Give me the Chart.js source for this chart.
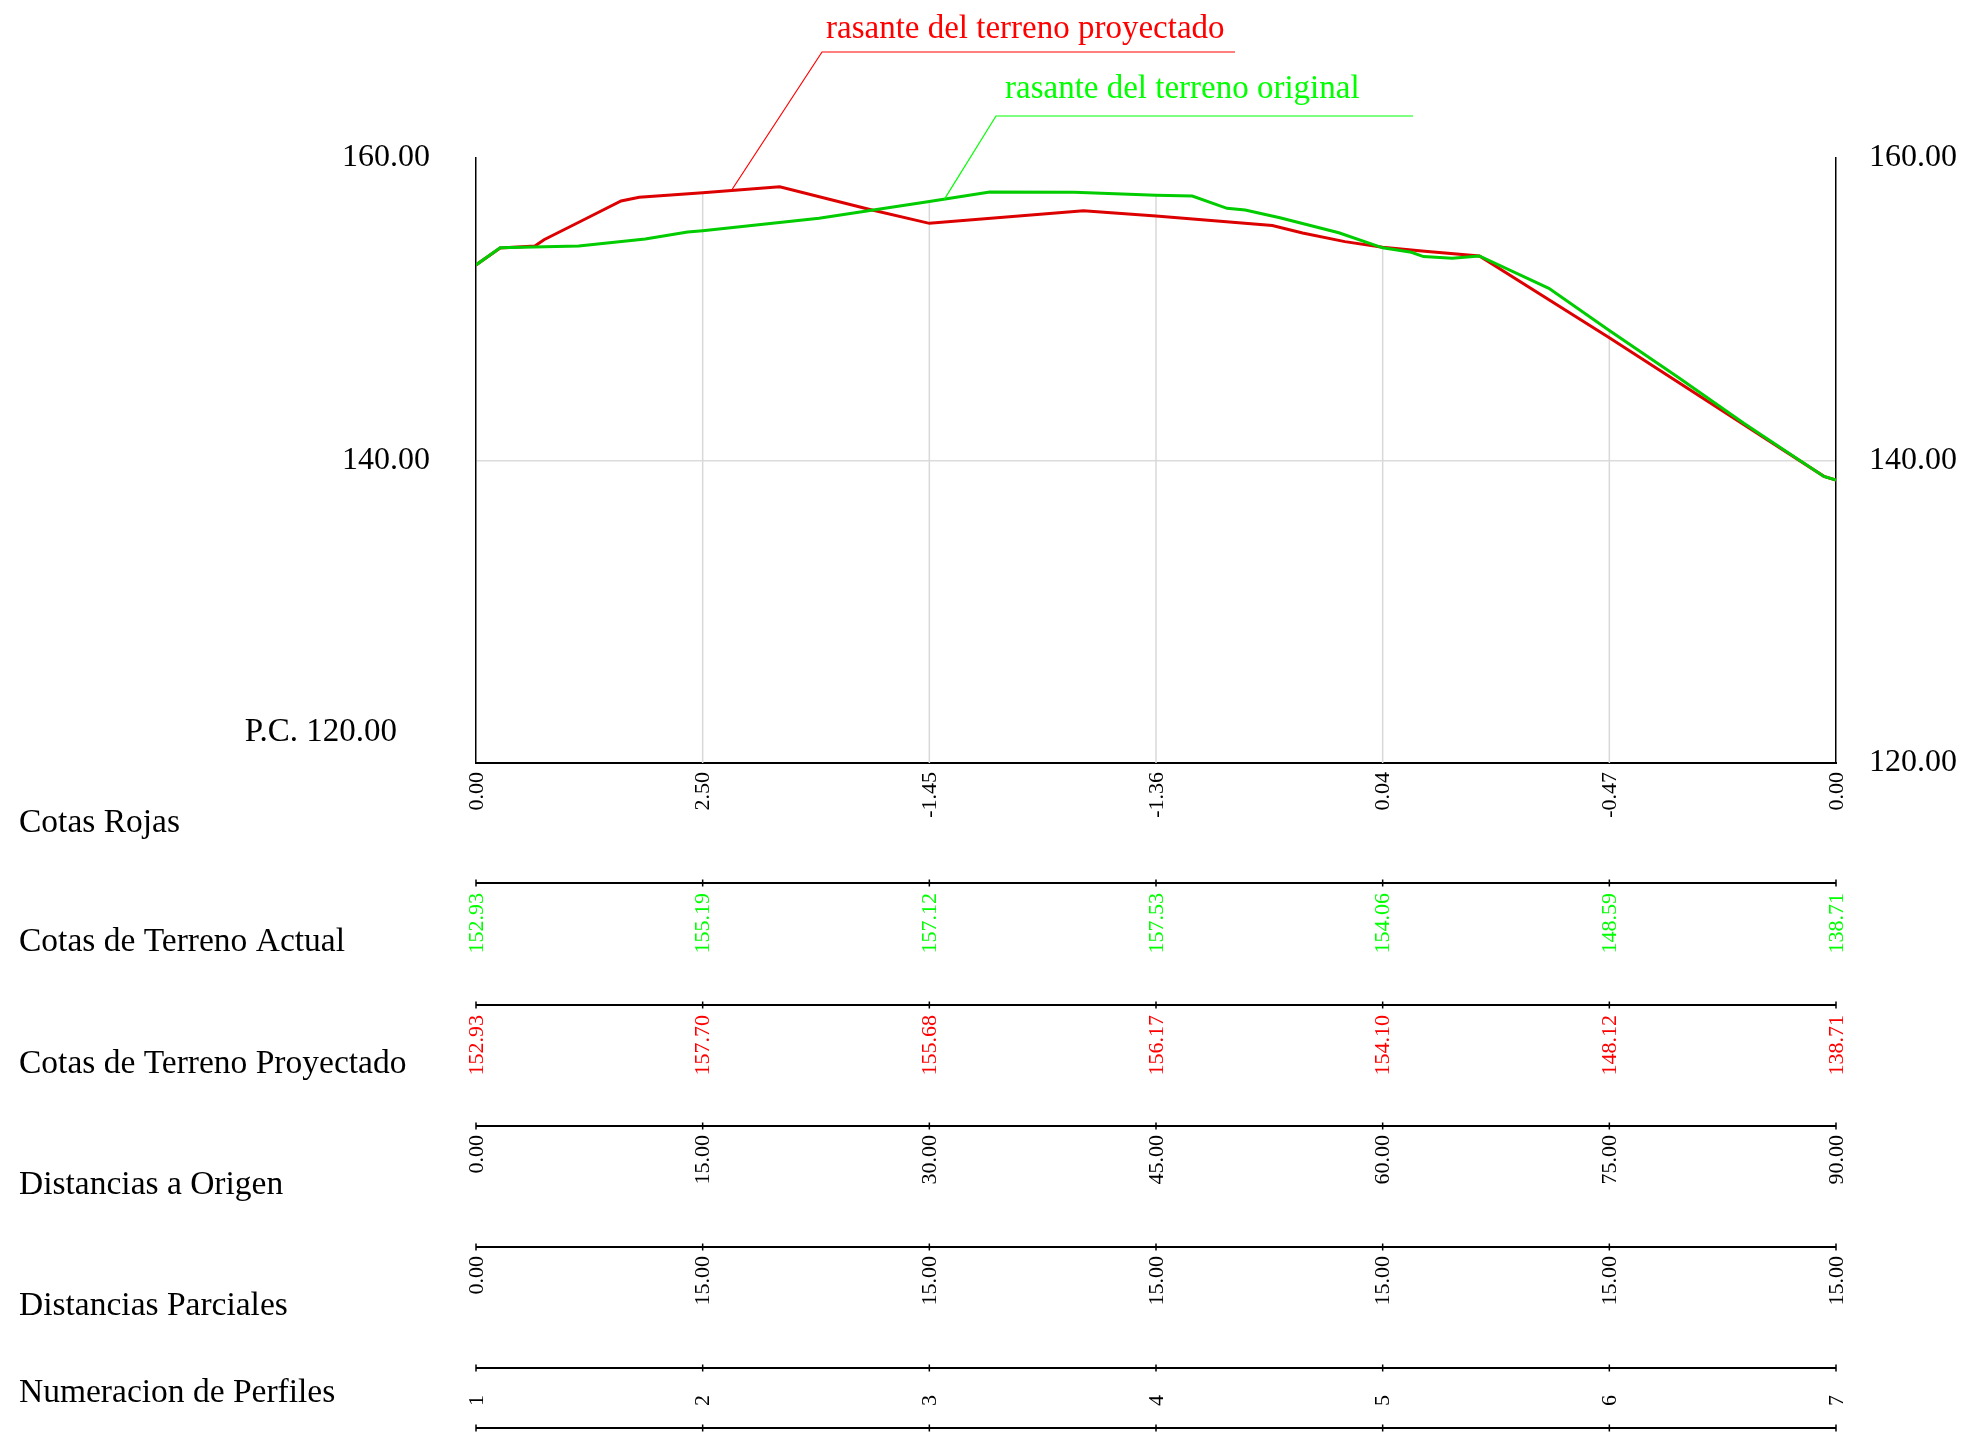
<!DOCTYPE html>
<html><head><meta charset="utf-8">
<script src="https://cdn.jsdelivr.net/npm/chart.js@4/dist/chart.umd.min.js"></script>
<style>html,body{margin:0;padding:0;background:#fff;}canvas{display:block;}</style>
</head><body>
<canvas id="c" width="1970" height="1432"></canvas>
<script>
// ---- data ----
const stations = [0, 15, 30, 45, 60, 75, 90];
const perfiles = ['1', '2', '3', '4', '5', '6', '7'];
const cotasRojas = ['0.00', '2.50', '-1.45', '-1.36', '0.04', '-0.47', '0.00'];
const cotasActual = ['152.93', '155.19', '157.12', '157.53', '154.06', '148.59', '138.71'];
const cotasProyectado = ['152.93', '157.70', '155.68', '156.17', '154.10', '148.12', '138.71'];
const distOrigen = ['0.00', '15.00', '30.00', '45.00', '60.00', '75.00', '90.00'];
const distParciales = ['0.00', '15.00', '15.00', '15.00', '15.00', '15.00', '15.00'];
const rowTitles = ['Cotas Rojas', 'Cotas de Terreno Actual', 'Cotas de Terreno Proyectado',
  'Distancias a Origen', 'Distancias Parciales', 'Numeracion de Perfiles'];
const yTicks = [120, 140, 160];
const planoComparacion = 'P.C. 120.00';
const labelProyectado = 'rasante del terreno proyectado';
const labelOriginal = 'rasante del terreno original';

const distRed = [0, 1.6, 3.9, 4.5, 7.1, 9.6, 10.8, 15, 20.1, 26, 30, 40.2, 45, 52.7, 54.7, 57.5, 60, 62.6, 66.4, 75, 89.2, 90];
const elevRed = [152.93, 154.05, 154.18, 154.6, 155.9, 157.16, 157.40, 157.70, 158.10, 156.61, 155.68, 156.52, 156.17, 155.53, 155.04, 154.47, 154.10, 153.85, 153.52, 148.12, 138.95, 138.71];

const distGreen = [0, 1.6, 6.8, 11.2, 14.0, 15, 22.7, 30, 34.0, 39.6, 45, 47.4, 49.7, 50.9, 53.2, 57.1, 60, 61.9, 62.7, 64.6, 66.4, 71.0, 75, 79.5, 83.9, 89.2, 90];
const elevGreen = [152.93, 154.07, 154.18, 154.64, 155.1, 155.19, 156.01, 157.12, 157.75, 157.73, 157.53, 157.49, 156.67, 156.56, 156.05, 155.06, 154.06, 153.77, 153.48, 153.37, 153.52, 151.38, 148.59, 145.54, 142.46, 138.95, 138.71];

// ---- helpers ----
const FONT = '"Liberation Serif", "Times New Roman", Times, serif';
function interp(xs, ys, v) {
  for (let i = 0; i < xs.length - 1; i++) {
    if (v >= xs[i] && v <= xs[i + 1]) {
      const t = (v - xs[i]) / (xs[i + 1] - xs[i]);
      return ys[i] + t * (ys[i + 1] - ys[i]);
    }
  }
  return ys[ys.length - 1];
}
const toXY = (xs, ys) => xs.map((v, i) => ({x: v, y: ys[i]}));

const RED_LINE = '#dd0000', GREEN_LINE = '#00cc00';
const RED_TEXT = '#ff0000', GREEN_TEXT = '#00ff00';

const rows = [
  {labels: cotasRojas, color: '#000', top: 9, title: 69},
  {labels: cotasActual, color: GREEN_TEXT, top: 130, title: 188},
  {labels: cotasProyectado, color: RED_TEXT, top: 252, title: 310},
  {labels: distOrigen, color: '#000', top: 372, title: 431},
  {labels: distParciales, color: '#000', top: 493, title: 552},
  {labels: perfiles, color: '#000', top: 632, title: 639}
];
const bandLines = [120, 242, 363, 484, 605, 665];

const annotations = [
  {text: labelProyectado, color: RED_TEXT, xs: distRed, ys: elevRed, at: 16.9,
   tx: 350, ty: -120, ux0: 346, ux1: 759, uy: -106},
  {text: labelOriginal, color: GREEN_TEXT, xs: distGreen, ys: elevGreen, at: 31.0,
   tx: 529, ty: -60, ux0: 520, ux1: 937, uy: -42}
];

const profilePlugin = {
  id: 'profile',
  beforeDatasetsDraw(chart) {
    const {ctx, chartArea, scales: {x, y}} = chart;
    ctx.save();
    ctx.strokeStyle = '#d9d9d9';
    ctx.lineWidth = 1.5;
    stations.forEach((d, i) => {
      if (i === 0 || i === stations.length - 1) return;
      const top = Math.max(interp(distRed, elevRed, d), interp(distGreen, elevGreen, d));
      const px = x.getPixelForValue(d);
      ctx.beginPath();
      ctx.moveTo(px, chartArea.bottom);
      ctx.lineTo(px, y.getPixelForValue(top));
      ctx.stroke();
    });
    ctx.restore();
  },
  afterDraw(chart) {
    const {ctx, chartArea, scales: {x, y}} = chart;
    const b = chartArea.bottom, L = chartArea.left, T = chartArea.top;
    const x0 = x.getPixelForValue(stations[0]);
    const x1 = x.getPixelForValue(stations[stations.length - 1]);
    ctx.save();
    // band lines with ticks
    ctx.strokeStyle = '#000';
    bandLines.forEach(off => {
      const ly = b + off;
      ctx.lineWidth = 2;
      ctx.beginPath(); ctx.moveTo(x0, ly); ctx.lineTo(x1, ly); ctx.stroke();
      ctx.lineWidth = 1.5;
      stations.forEach(d => {
        const px = x.getPixelForValue(d);
        ctx.beginPath(); ctx.moveTo(px, ly - 3.5); ctx.lineTo(px, ly + 3.5); ctx.stroke();
      });
    });
    // row titles
    ctx.font = '33.5px ' + FONT;
    ctx.fillStyle = '#000';
    ctx.textAlign = 'left';
    ctx.textBaseline = 'alphabetic';
    rows.forEach((r, i) => ctx.fillText(rowTitles[i], 19, b + r.title));
    // rotated values
    ctx.font = '22px ' + FONT;
    rows.forEach(r => {
      ctx.fillStyle = r.color;
      stations.forEach((d, i) => {
        const px = x.getPixelForValue(d);
        ctx.save();
        ctx.translate(px, b + r.top);
        ctx.rotate(-Math.PI / 2);
        ctx.textAlign = 'right';
        ctx.textBaseline = 'middle';
        ctx.fillText(r.labels[i], 0, 1);
        ctx.restore();
      });
    });
    // plano de comparacion
    ctx.font = '33px ' + FONT;
    ctx.fillStyle = '#000';
    ctx.textAlign = 'right';
    ctx.textBaseline = 'alphabetic';
    ctx.fillText(planoComparacion, L - 79, b - 22);
    // annotations
    annotations.forEach(a => {
      const px = x.getPixelForValue(a.at);
      const py = y.getPixelForValue(interp(a.xs, a.ys, a.at));
      ctx.strokeStyle = a.color;
      ctx.lineWidth = 1.2;
      ctx.beginPath();
      ctx.moveTo(px, py);
      ctx.lineTo(L + a.ux0, T + a.uy);
      ctx.lineTo(L + a.ux1, T + a.uy);
      ctx.stroke();
      ctx.font = '33px ' + FONT;
      ctx.fillStyle = a.color;
      ctx.textAlign = 'left';
      ctx.fillText(a.text, L + a.tx, T + a.ty);
    });
    ctx.restore();
  }
};

new Chart(document.getElementById('c'), {
  type: 'line',
  data: {
    datasets: [
      {label: labelOriginal, data: toXY(distGreen, elevGreen), borderColor: GREEN_LINE,
       borderWidth: 3, pointRadius: 0, tension: 0, fill: false, yAxisID: 'y'},
      {label: labelProyectado, data: toXY(distRed, elevRed), borderColor: RED_LINE,
       borderWidth: 3, pointRadius: 0, tension: 0, fill: false, yAxisID: 'y'}
    ]
  },
  options: {
    responsive: false,
    animation: false,
    events: [],
    layout: {padding: {top: 158, left: 0, right: 0, bottom: 0}},
    plugins: {legend: {display: false}, tooltip: {enabled: false}, title: {display: false}},
    scales: {
      x: {
        type: 'linear', position: 'bottom', min: 0, max: 90,
        ticks: {display: false, stepSize: 15},
        grid: {display: false, drawTicks: false},
        border: {display: true, color: '#000', width: 2},
        afterFit: s => { s.height = 669; }
      },
      y: {
        type: 'linear', position: 'left', min: 120, max: 160,
        afterBuildTicks: s => { s.ticks = yTicks.map(v => ({value: v})); },
        ticks: {
          padding: 46, color: '#000', font: {family: FONT, size: 32},
          callback: v => (v === 120 ? '' : Number(v).toFixed(2))
        },
        grid: {drawTicks: false, color: c => (c.tick && c.tick.value === 140 ? '#dcdcdc' : 'rgba(0,0,0,0)'), lineWidth: 1.5},
        border: {display: true, color: '#000', width: 1.5},
        afterFit: s => { s.width = 476; }
      },
      y2: {
        type: 'linear', position: 'right', min: 120, max: 160,
        afterBuildTicks: s => { s.ticks = yTicks.map(v => ({value: v})); },
        ticks: {
          padding: 33, color: '#000', font: {family: FONT, size: 32},
          callback: v => Number(v).toFixed(2)
        },
        grid: {display: false, drawTicks: false},
        border: {display: true, color: '#000', width: 1.5},
        afterFit: s => { s.width = 134; }
      }
    }
  },
  plugins: [profilePlugin]
});
</script>
</body></html>
